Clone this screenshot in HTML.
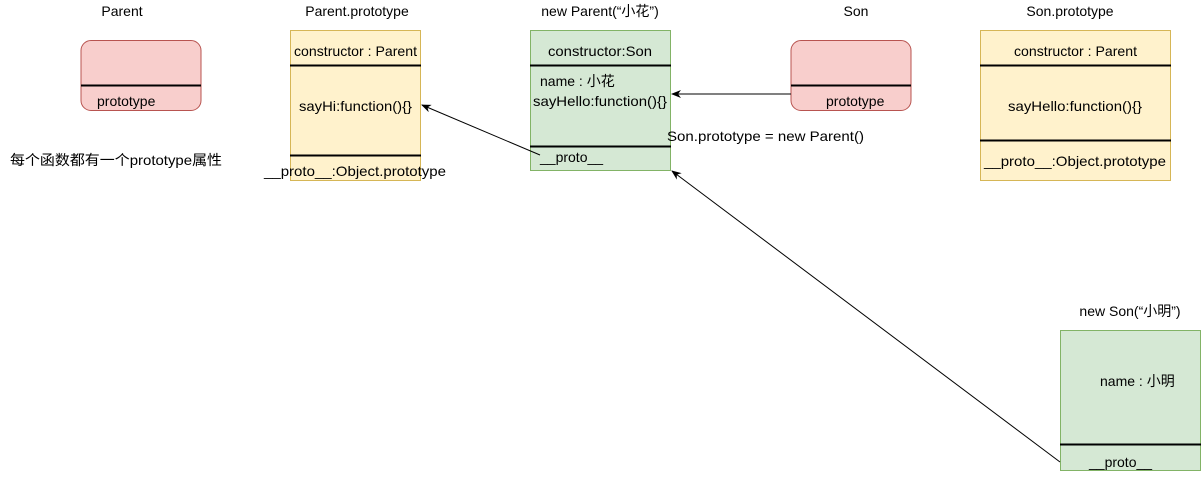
<!DOCTYPE html>
<html><head><meta charset="utf-8"><style>
html,body{margin:0;padding:0;background:#fff;}
svg text{font-family:"Liberation Sans","Noto Sans CJK SC",sans-serif;font-size:14px;fill:#000;}
</style></head><body>
<svg width="1202" height="472" viewBox="0 0 1202 472" xmlns="http://www.w3.org/2000/svg">
<defs><marker id="a" markerWidth="10" markerHeight="8" refX="9" refY="4" orient="auto" markerUnits="userSpaceOnUse"><path d="M0,0 L10,4 L0,8 L3,4 z" fill="#000"/></marker></defs>
<!-- Parent -->
<text x="122" y="16" text-anchor="middle">Parent</text>
<rect x="81" y="40.5" width="120" height="70" rx="10" fill="#f8cecc" stroke="#b85450"/>
<line x1="81" y1="85.5" x2="201" y2="85.5" stroke="#000" stroke-width="2"/>
<text x="97" y="106">prototype</text>
<text x="10" y="165" textLength="212" lengthAdjust="spacingAndGlyphs">每个函数都有一个prototype属性</text>
<!-- Parent.prototype -->
<text x="357" y="16" text-anchor="middle">Parent.prototype</text>
<rect x="290.5" y="30.5" width="130" height="150" fill="#fff2cc" stroke="#d6b656"/>
<line x1="290" y1="65.5" x2="421" y2="65.5" stroke="#000" stroke-width="2"/>
<line x1="290" y1="155.5" x2="421" y2="155.5" stroke="#000" stroke-width="2"/>
<text x="294" y="56" textLength="123" lengthAdjust="spacingAndGlyphs">constructor : Parent</text>
<text x="299" y="111" textLength="113" lengthAdjust="spacingAndGlyphs">sayHi:function(){}</text>
<text x="264" y="176" textLength="182" lengthAdjust="spacingAndGlyphs">__proto__:Object.prototype</text>
<!-- new Parent -->
<text x="600" y="16" text-anchor="middle">new Parent(“小花”)</text>
<rect x="530.5" y="30.5" width="140" height="140" fill="#d5e8d4" stroke="#82b366"/>
<line x1="530" y1="65.5" x2="671" y2="65.5" stroke="#000" stroke-width="2"/>
<line x1="530" y1="146.5" x2="671" y2="146.5" stroke="#000" stroke-width="2"/>
<text x="548" y="56" textLength="104" lengthAdjust="spacingAndGlyphs">constructor:Son</text>
<text x="540" y="86">name : 小花</text>
<text x="533" y="106" textLength="134" lengthAdjust="spacingAndGlyphs">sayHello:function(){}</text>
<text x="540" y="162">__proto__</text>
<text x="667" y="141" textLength="197" lengthAdjust="spacingAndGlyphs">Son.prototype = new Parent()</text>
<!-- Son -->
<text x="856" y="16" text-anchor="middle">Son</text>
<rect x="791" y="40.5" width="120" height="70" rx="10" fill="#f8cecc" stroke="#b85450"/>
<line x1="791" y1="85.5" x2="911" y2="85.5" stroke="#000" stroke-width="2"/>
<text x="826" y="106">prototype</text>
<!-- Son.prototype -->
<text x="1070" y="16" text-anchor="middle">Son.prototype</text>
<rect x="980.5" y="30.5" width="190" height="150" fill="#fff2cc" stroke="#d6b656"/>
<line x1="980" y1="65.5" x2="1171" y2="65.5" stroke="#000" stroke-width="2"/>
<line x1="980" y1="140.5" x2="1171" y2="140.5" stroke="#000" stroke-width="2"/>
<text x="1014" y="56" textLength="123" lengthAdjust="spacingAndGlyphs">constructor : Parent</text>
<text x="1008" y="111" textLength="134" lengthAdjust="spacingAndGlyphs">sayHello:function(){}</text>
<text x="984" y="166" textLength="182" lengthAdjust="spacingAndGlyphs">__proto__:Object.prototype</text>
<!-- new Son -->
<text x="1130" y="316" text-anchor="middle">new Son(“小明”)</text>
<rect x="1060.5" y="330.5" width="140" height="140" fill="#d5e8d4" stroke="#82b366"/>
<line x1="1060" y1="444.5" x2="1201" y2="444.5" stroke="#000" stroke-width="2"/>
<text x="1100" y="386">name : 小明</text>
<text x="1089" y="467">__proto__</text>
<!-- arrows -->
<line x1="540" y1="155" x2="422" y2="105" stroke="#000" marker-end="url(#a)"/>
<line x1="791" y1="94" x2="672" y2="94" stroke="#000" marker-end="url(#a)"/>
<line x1="1060" y1="462" x2="672" y2="171" stroke="#000" marker-end="url(#a)"/>
</svg>
</body></html>
